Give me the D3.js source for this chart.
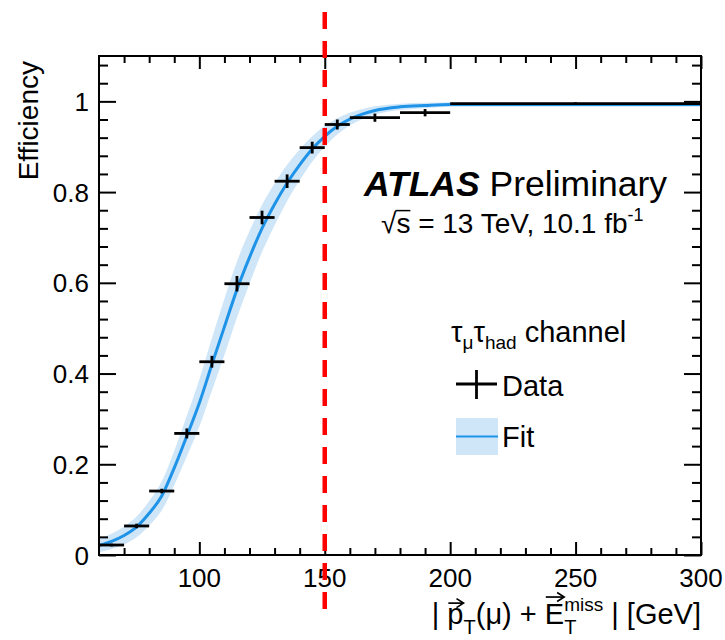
<!DOCTYPE html>
<html><head><meta charset="utf-8">
<script src="https://cdn.jsdelivr.net/npm/d3@7"></script>
<style>html,body{margin:0;padding:0;background:#fff;} svg{display:block;}</style>
</head><body>
<svg id="c" width="725" height="640"></svg>
<script>
// ---- data ----
const binLow  = [60, 70, 80, 90, 100, 110, 120, 130, 140, 150, 160, 180, 200];
const binHigh = [70, 80, 90, 100, 110, 120, 130, 140, 150, 160, 180, 200, 300];
const effVal  = [0.022, 0.064, 0.141, 0.268, 0.426, 0.598, 0.744, 0.824, 0.898, 0.949, 0.964, 0.975, 0.995];
const effErr  = [0.003, 0.005, 0.005, 0.011, 0.013, 0.017, 0.015, 0.015, 0.013, 0.011, 0.009, 0.008, 0.003];

const fitX   = [60, 65, 70, 75, 80, 85, 90, 95, 100, 105, 110, 115, 120, 125, 130, 135, 140, 145, 150, 155, 160, 165, 170, 180, 190, 200, 250, 300];
const fitY   = [0.021, 0.030, 0.043, 0.062, 0.092, 0.130, 0.192, 0.262, 0.335, 0.420, 0.503, 0.585, 0.656, 0.720, 0.773, 0.820, 0.860, 0.895, 0.923, 0.945, 0.961, 0.972, 0.980, 0.988, 0.991, 0.993, 0.993, 0.993];
const fitErr = [0.015, 0.017, 0.020, 0.023, 0.027, 0.032, 0.038, 0.045, 0.052, 0.058, 0.062, 0.062, 0.058, 0.052, 0.046, 0.040, 0.034, 0.028, 0.023, 0.018, 0.014, 0.011, 0.009, 0.007, 0.006, 0.005, 0.005, 0.005];

const xMajor = [100, 150, 200, 250, 300];
const xMinor = [70, 80, 90, 110, 120, 130, 140, 160, 170, 180, 190, 210, 220, 230, 240, 260, 270, 280, 290];
const yMajor = [0, 0.2, 0.4, 0.6, 0.8, 1];
const yMajorLabels = ["0", "0.2", "0.4", "0.6", "0.8", "1"];
const yMinor = [0.04,0.08,0.12,0.16,0.24,0.28,0.32,0.36,0.44,0.48,0.52,0.56,0.64,0.68,0.72,0.76,0.84,0.88,0.92,0.96,1.04,1.08];
const cutValue = 150;

// ---- layout ----
const L = 99, R = 701, T = 56, B = 555;
const FONT = "'Liberation Sans', Arial, Helvetica, sans-serif";
const svg = d3.select("#c");
const x = d3.scaleLinear().domain([60, 300]).range([L, R]);
const y = d3.scaleLinear().domain([0, 1.1]).range([B, T]);

const fitColor = "#1f93e8", bandColor = "#cfe6f9";

// band
const fitData = fitX.map((v, i) => ({x: v, y: fitY[i], e: fitErr[i]}));
svg.append("path").datum(fitData)
  .attr("d", d3.area().x(d => x(d.x)).y0(d => y(d.y - d.e)).y1(d => y(d.y + d.e)).curve(d3.curveMonotoneX))
  .attr("fill", bandColor);
svg.append("path").datum(fitData)
  .attr("d", d3.line().x(d => x(d.x)).y(d => y(d.y)).curve(d3.curveMonotoneX))
  .attr("fill", "none").attr("stroke", fitColor).attr("stroke-width", 3);

// data
const pts = binLow.map((lo, i) => ({lo, hi: binHigh[i], v: effVal[i], e: effErr[i]}));
const dg = svg.append("g").attr("stroke", "#000").attr("stroke-width", 2.8);
dg.selectAll("line.h").data(pts).join("line").attr("class", "h")
  .attr("x1", d => x(d.lo)).attr("x2", d => x(d.hi)).attr("y1", d => y(d.v)).attr("y2", d => y(d.v));
dg.selectAll("line.v").data(pts).join("line").attr("class", "v")
  .attr("x1", d => x((d.lo + d.hi) / 2)).attr("x2", d => x((d.lo + d.hi) / 2))
  .attr("y1", d => y(d.v - d.e)).attr("y2", d => y(d.v + d.e));

// axes (ROOT style, ticks inside)
function axisG(axis, tr) {
  const g = svg.append("g").attr("transform", tr).call(axis);
  g.select(".domain").remove();
  g.selectAll(".tick line").attr("stroke", "#000").attr("stroke-width", 2);
  return g;
}
axisG(d3.axisBottom(x).tickValues(xMajor).tickSize(-13).tickFormat(""), `translate(0,${B})`);
axisG(d3.axisBottom(x).tickValues(xMinor).tickSize(-7).tickFormat(""), `translate(0,${B})`);
axisG(d3.axisTop(x).tickValues(xMajor).tickSize(-13).tickFormat(""), `translate(0,${T})`);
axisG(d3.axisTop(x).tickValues(xMinor).tickSize(-7).tickFormat(""), `translate(0,${T})`);
axisG(d3.axisLeft(y).tickValues(yMajor).tickSize(-17).tickFormat(""), `translate(${L},0)`);
axisG(d3.axisLeft(y).tickValues(yMinor).tickSize(-9).tickFormat(""), `translate(${L},0)`);
axisG(d3.axisRight(y).tickValues(yMajor).tickSize(-17).tickFormat(""), `translate(${R},0)`);
axisG(d3.axisRight(y).tickValues(yMinor).tickSize(-9).tickFormat(""), `translate(${R},0)`);
svg.append("rect").attr("x", L).attr("y", T).attr("width", R - L).attr("height", B - T)
  .attr("fill", "none").attr("stroke", "#000").attr("stroke-width", 2);

// tick labels
svg.append("g").selectAll("text").data(xMajor).join("text")
  .attr("x", d => x(d)).attr("y", B + 32).attr("text-anchor", "middle")
  .attr("font-family", FONT).attr("font-size", 26).text(d => d);
svg.append("g").selectAll("text").data(yMajor).join("text")
  .attr("x", L - 10).attr("y", d => y(d) + 9.5).attr("text-anchor", "end")
  .attr("font-family", FONT).attr("font-size", 26).text((d, i) => yMajorLabels[i]);

// cut line
svg.append("line").attr("x1", x(cutValue)).attr("x2", x(cutValue)).attr("y1", T - 73).attr("y2", B + 56)
  .attr("stroke", "#ff0000").attr("stroke-width", 4.5).attr("stroke-dasharray", "17,12");

// rich text helper
function rich(px, py, parts, anchor) {
  const g = svg.append("g");
  let cx = 0, prevX0 = 0;
  parts.forEach(p => {
    const x0 = p.stack ? prevX0 : cx;
    const t = g.append("text").attr("x", x0).attr("y", p.shift || 0)
      .attr("font-family", FONT).attr("font-size", p.size)
      .attr("font-weight", p.bold ? "bold" : "normal").attr("font-style", p.italic ? "italic" : "normal")
      .attr("xml:space", "preserve").text(p.t);
    const w = t.node().getComputedTextLength();
    if (p.arrow) {
      const ay = (p.shift || 0) - p.size * (p.arrowH || 0.86);
      g.append("line").attr("x1", x0 + 1).attr("x2", x0 + w - 1).attr("y1", ay).attr("y2", ay)
        .attr("stroke", "#000").attr("stroke-width", 1.7);
      g.append("path").attr("d", `M${x0 + w - 7},${ay - 4.5} L${x0 + w},${ay} L${x0 + w - 7},${ay + 4.5}`)
        .attr("fill", "none").attr("stroke", "#000").attr("stroke-width", 1.7);
    }
    if (p.overbar) {
      const oy = (p.shift || 0) - p.size * 0.8;
      g.append("line").attr("x1", x0 - 1).attr("x2", x0 + w).attr("y1", oy).attr("y2", oy)
        .attr("stroke", "#000").attr("stroke-width", 1.5);
    }
    cx = p.stack ? Math.max(cx, x0 + w) : x0 + w;
    prevX0 = x0;
  });
  const ox = anchor === "end" ? px - cx : (anchor === "middle" ? px - cx / 2 : px);
  g.attr("transform", `translate(${ox},${py})`);
  return g;
}

// x title
rich(R, 624, [
  {t: "| ", size: 29},
  {t: "p", size: 29, arrow: true, arrowH: 0.72},
  {t: "T", size: 20, shift: 10},
  {t: "(μ) + ", size: 29},
  {t: "E", size: 29, arrow: true, arrowH: 0.93},
  {t: "T", size: 20, shift: 10},
  {t: "miss", size: 19, shift: -13, stack: true},
  {t: " | [GeV]", size: 29}
], "end");

// y title
svg.append("text").attr("transform", `translate(38,61) rotate(-90)`).attr("text-anchor", "end")
  .attr("font-family", FONT).attr("font-size", 28).text("Efficiency");

// ATLAS label
rich(364, 196, [
  {t: "ATLAS", size: 35.5, bold: true, italic: true},
  {t: " Preliminary", size: 35.5}
], "start");
rich(381, 233, [
  {t: "√", size: 28},
  {t: "s", size: 28, overbar: true},
  {t: " = 13 TeV, 10.1 fb", size: 28},
  {t: "-1", size: 18, shift: -12}
], "start");

// legend
rich(451, 342, [
  {t: "τ", size: 29},
  {t: "μ", size: 19, shift: 7},
  {t: "τ", size: 29},
  {t: "had", size: 19, shift: 7},
  {t: " channel", size: 29}
], "start");
const lg = svg.append("g");
lg.append("line").attr("x1", 456).attr("x2", 497).attr("y1", 384).attr("y2", 384).attr("stroke", "#000").attr("stroke-width", 2.8);
lg.append("line").attr("x1", 476.5).attr("x2", 476.5).attr("y1", 370).attr("y2", 399).attr("stroke", "#000").attr("stroke-width", 2.8);
lg.append("text").attr("x", 502).attr("y", 396).attr("font-family", FONT).attr("font-size", 29).text("Data");
lg.append("rect").attr("x", 456).attr("y", 418).attr("width", 42).attr("height", 37).attr("fill", bandColor);
lg.append("line").attr("x1", 456).attr("x2", 498).attr("y1", 436.5).attr("y2", 436.5).attr("stroke", fitColor).attr("stroke-width", 2);
lg.append("text").attr("x", 502).attr("y", 447).attr("font-family", FONT).attr("font-size", 29).text("Fit");
</script>
</body></html>
